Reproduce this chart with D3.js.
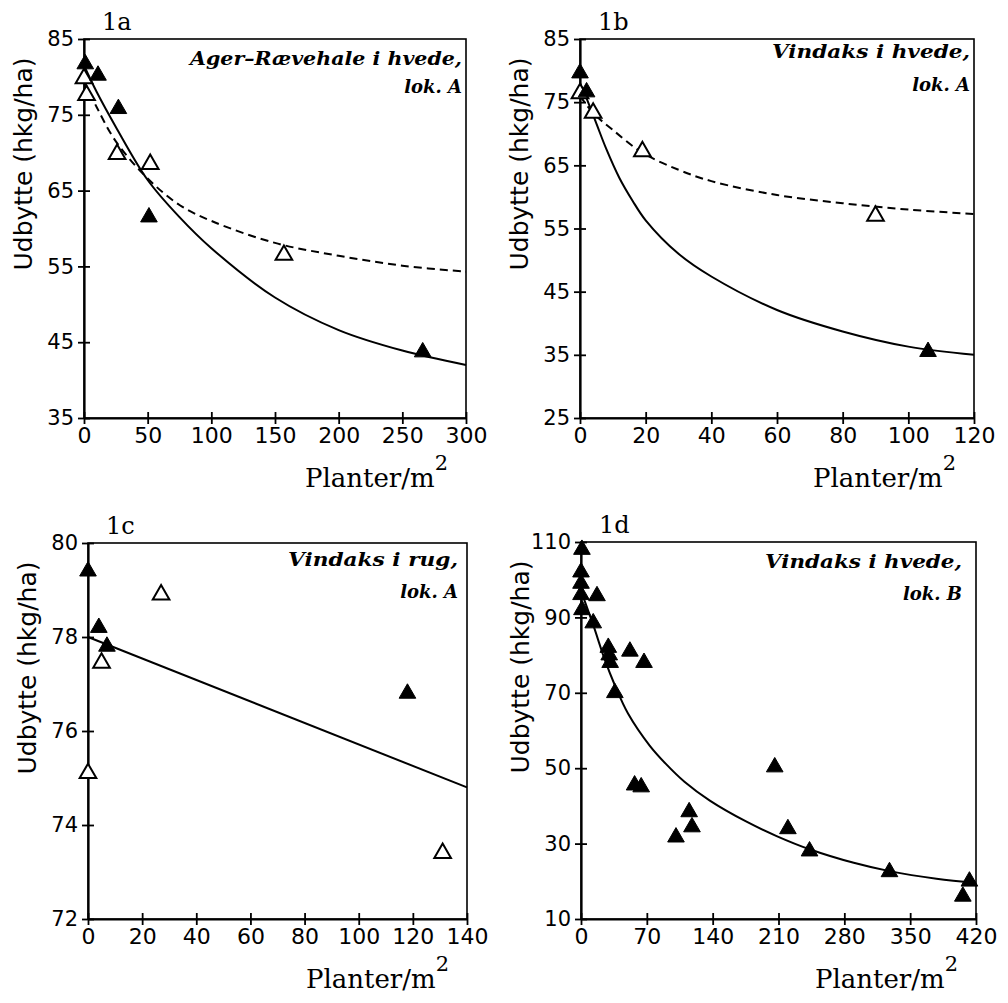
<!DOCTYPE html>
<html>
<head>
<meta charset="utf-8">
<script src="https://cdn.jsdelivr.net/npm/d3@7"></script>
<style>
body { margin: 0; background: #fff; }
svg { display: block; }
</style>
</head>
<body>
<script>
// 1a  Ager-Rævehale i hvede, lok. A
var aFilled = [[1, 81.7], [11, 80.2], [27, 75.8], [51, 61.5], [266, 43.7]];
var aOpen = [[0, 79.8], [2, 77.6], [26, 69.8], [52, 68.5], [157, 56.5]];
var aSolid = [[0, 81.5], [10, 78], [25, 73.4], [50, 66.4], [75, 61.5], [100, 57.4], [150, 50.9], [200, 46.6], [250, 43.9], [300, 42.0]];
var aDashed = [[0, 79.5], [10, 76], [25, 71.5], [50, 66.6], [75, 63.1], [100, 61], [150, 58.1], [200, 56.4], [250, 55.1], [300, 54.3]];
var aXTicks = [0, 50, 100, 150, 200, 250, 300];
var aYTicks = [35, 45, 55, 65, 75, 85];

// 1b  Vindaks i hvede, lok. A
var bFilled = [[0, 79.6], [2, 76.6], [106, 35.5]];
var bOpen = [[0, 76.4], [4, 73.3], [19, 67.2], [90, 57.0]];
var bSolid = [[0, 78], [2, 75.6], [5, 71.6], [8, 67.6], [12, 63], [16, 59.4], [20, 56.3], [30, 51], [40, 47.4], [60, 42.1], [80, 38.7], [100, 36.3], [120, 35.0]];
var bDashed = [[0, 76], [4, 73.3], [10, 70.6], [19, 67], [30, 64.3], [40, 62.5], [60, 60.3], [80, 59.0], [100, 58.0], [120, 57.3]];
var bXTicks = [0, 20, 40, 60, 80, 100, 120];
var bYTicks = [25, 35, 45, 55, 65, 75, 85];

// 1c  Vindaks i rug, lok. A
var cFilled = [[0, 79.4], [4, 78.2], [7, 77.8], [118, 76.8]];
var cOpen = [[0, 75.1], [5, 77.45], [27, 78.9], [131, 73.4]];
var cSolid = [[0, 78.0], [140, 74.8]];
var cXTicks = [0, 20, 40, 60, 80, 100, 120, 140];
var cYTicks = [72, 74, 76, 78, 80];

// 1d  Vindaks i hvede, lok. B
var dFilled = [[1, 108], [0, 102], [0, 99], [0, 96], [1, 92], [17, 95.7], [13, 88.5], [29, 82], [30, 80], [31, 78],
    [52, 81], [67, 78], [36, 70], [57, 45.5], [64, 45], [101, 31.7], [115, 38.4], [118, 34.4], [206, 50.3],
    [220, 33.9], [243, 28], [328, 22.5], [413, 20], [406, 16]];
var dSolid = [[3, 95], [13, 88], [25, 79], [36, 72], [50, 64.5], [73, 56], [90, 51.2], [110, 46.4], [137, 41.4], [176, 35.8],
    [208, 32.0], [243, 28.5], [290, 24.9], [328, 22.7], [378, 20.7], [420, 19.6]];
var dXTicks = [0, 70, 140, 210, 280, 350, 420];
var dYTicks = [10, 30, 50, 70, 90, 110];

var svg = d3.select("body").append("svg")
    .attr("width", 1008)
    .attr("height", 1003);

var panels = [
    { label: "1a", left: 84, right: 466, top: 39, bottom: 418,
      xTicks: aXTicks, yTicks: aYTicks, filled: aFilled, open: aOpen, solid: aSolid, dashed: aDashed,
      note: ["Ager\u2013R\u00e6vehale i hvede,", "lok. A"], noteRight: 462, noteY: [65, 93], noteLen: 272 },
    { label: "1b", left: 580, right: 974, top: 39, bottom: 418,
      xTicks: bXTicks, yTicks: bYTicks, filled: bFilled, open: bOpen, solid: bSolid, dashed: bDashed,
      note: ["Vindaks i hvede,", "lok. A"], noteRight: 970, noteY: [58, 91], noteLen: 198 },
    { label: "1c", left: 88, right: 467, top: 543, bottom: 919,
      xTicks: cXTicks, yTicks: cYTicks, filled: cFilled, open: cOpen, solid: cSolid, dashed: null,
      note: ["Vindaks i rug,", "lok. A"], noteRight: 458, noteY: [566, 598], noteLen: 170 },
    { label: "1d", left: 581, right: 976, top: 542, bottom: 919,
      xTicks: dXTicks, yTicks: dYTicks, filled: dFilled, open: [], solid: dSolid, dashed: null,
      note: ["Vindaks i hvede,", "lok. B"], noteRight: 962, noteY: [568, 600], noteLen: 197 }
];

panels.forEach(drawPanel);

function drawPanel(p)
{
    var x = d3.scaleLinear()
        .domain(d3.extent(p.xTicks))
        .range([p.left, p.right]);
    var y = d3.scaleLinear()
        .domain(d3.extent(p.yTicks))
        .range([p.bottom, p.top]);

    var g = svg.append("g");

    // frame
    g.append("rect")
        .attr("x", p.left)
        .attr("y", p.top)
        .attr("width", p.right - p.left)
        .attr("height", p.bottom - p.top)
        .attr("fill", "none")
        .attr("stroke", "#000")
        .attr("stroke-width", 1.6);

    var yAxis = g.append("g")
        .attr("transform", "translate(" + p.left + ",0)")
        .call(d3.axisLeft(y).tickValues(p.yTicks).tickSizeInner(6).tickSizeOuter(0).tickPadding(4));
    yAxis.selectAll(".tick line").attr("x1", 6);

    var xAxis = g.append("g")
        .attr("transform", "translate(0," + p.bottom + ")")
        .call(d3.axisBottom(x).tickValues(p.xTicks).tickSizeInner(6).tickSizeOuter(0).tickPadding(3));
    xAxis.selectAll(".tick line").attr("y1", -6);

    [yAxis, xAxis].forEach(function(a) {
        a.attr("font-family", "'DejaVu Sans', sans-serif");
        a.select(".domain").attr("stroke-width", 2.2);
        a.selectAll(".tick line").attr("stroke-width", 1.8);
        a.selectAll(".tick text").attr("fill", "#000");
    });
    yAxis.attr("font-size", 21);
    xAxis.attr("font-size", 22);

    var line = d3.line()
        .x(function(d) { return x(d[0]); })
        .y(function(d) { return y(d[1]); })
        .curve(d3.curveCatmullRom.alpha(0.5));

    g.append("path")
        .attr("d", line(p.solid))
        .attr("fill", "none")
        .attr("stroke", "#000")
        .attr("stroke-width", 2);

    if (p.dashed)
    {
        g.append("path")
            .attr("d", line(p.dashed))
            .attr("fill", "none")
            .attr("stroke", "#000")
            .attr("stroke-width", 2)
            .attr("stroke-dasharray", "8,5");
    }

    var tri = d3.symbol().type(d3.symbolTriangle).size(120);

    g.selectAll(".open")
        .data(p.open)
        .enter().append("path")
        .attr("class", "open")
        .attr("d", tri)
        .attr("transform", function(d) { return "translate(" + x(d[0]) + "," + y(d[1]) + ")"; })
        .attr("fill", "#fff")
        .attr("stroke", "#000")
        .attr("stroke-width", 2);

    g.selectAll(".filled")
        .data(p.filled)
        .enter().append("path")
        .attr("class", "filled")
        .attr("d", tri)
        .attr("transform", function(d) { return "translate(" + x(d[0]) + "," + y(d[1]) + ")"; })
        .attr("fill", "#000")
        .attr("stroke", "#000")
        .attr("stroke-width", 1);

    // panel label
    g.append("text")
        .text(p.label)
        .attr("x", p.left + 18)
        .attr("y", p.top - 9)
        .attr("font-family", "'DejaVu Serif', serif")
        .attr("font-size", 24);

    // axis titles
    g.append("text")
        .text("Udbytte (hkg/ha)")
        .attr("transform", "translate(" + (p.left - 52) + "," + (p.top + 125) + ") rotate(-90)")
        .attr("text-anchor", "middle")
        .attr("font-family", "'DejaVu Sans', sans-serif")
        .attr("font-size", 25);

    var xt = g.append("text")
        .attr("x", p.right - 18)
        .attr("y", p.bottom + 69)
        .attr("text-anchor", "end")
        .attr("font-family", "'DejaVu Serif', serif")
        .attr("font-size", 26);
    xt.append("tspan").text("Planter/m");
    xt.append("tspan").text("2").attr("dy", -17).attr("font-size", 21);

    // annotation
    p.note.forEach(function(t, i) {
        g.append("text")
            .text(t)
            .attr("x", p.noteRight)
            .attr("y", p.noteY[i])
            .attr("text-anchor", "end")
            .attr("font-family", "'DejaVu Serif', serif")
            .attr("font-style", "italic")
            .attr("font-weight", "bold")
            .attr("font-size", 18)
            .attr("textLength", i == 0 ? p.noteLen : null)
            .attr("lengthAdjust", "spacingAndGlyphs");
    });
}
</script>
</body>
</html>
